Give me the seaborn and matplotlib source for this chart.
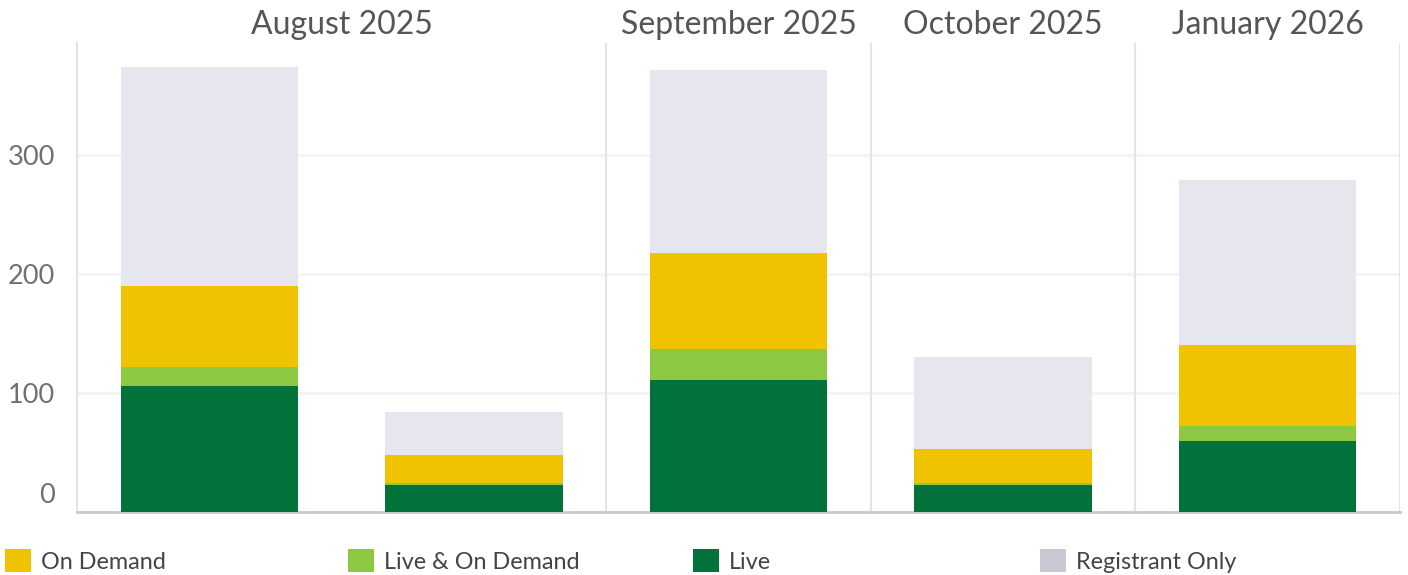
import numpy as np
import pandas as pd
import matplotlib
matplotlib.use("Agg")
import matplotlib.pyplot as plt
import matplotlib.transforms as mtransforms
from matplotlib.patches import Patch
import seaborn as sns

# Attendance breakdown per webinar session
sessions = ["Aug A", "Aug B", "Sep", "Oct", "Jan"]
live = [106, 23, 111, 23, 60]
live_on_demand = [16, 1, 26, 1, 12]
on_demand = [68, 24, 81, 29, 68]
registrant_only = [184, 36, 153, 77, 139]

months = ["August 2025", "September 2025", "October 2025", "January 2026"]
month_sessions = [2, 1, 1, 1]

series_names = ["On Demand", "Live & On Demand", "Live", "Registrant Only"]
bar_colors = {"Live": "#00723a", "Live & On Demand": "#8dc843",
              "On Demand": "#f0c300", "Registrant Only": "#e6e6ee"}
legend_colors = {"Live": "#00723a", "Live & On Demand": "#8dc843",
                 "On Demand": "#f0c300", "Registrant Only": "#c9c9d3"}

sns.set_theme(style="white")
plt.rcParams["font.family"] = ["Lato", "DejaVu Sans"]

df = pd.DataFrame({
    "session": sessions,
    "Live": live,
    "Live & On Demand": live_on_demand,
    "On Demand": on_demand,
    "Registrant Only": registrant_only,
})
# cumulative tops, drawn back-to-front so each layer covers the one above it
stack_order = ["Live", "Live & On Demand", "On Demand", "Registrant Only"]
cum = df[stack_order].cumsum(axis=1)

fig = plt.figure(figsize=(14.08, 5.75), dpi=100)
W, H = 1408, 575
ax = fig.add_axes([77 / W, 1 - 512 / H, (1400 - 77) / W, (512 - 43) / H])

for name in reversed(stack_order):
    sns.barplot(x=df["session"], y=cum[name], color=bar_colors[name],
                width=0.67, saturation=1, ax=ax, linewidth=0, zorder=3)

ax.set_xlim(-0.5, len(sessions) - 0.5)
ax.set_ylim(0, 394)
ax.set_xlabel("")
ax.set_ylabel("")
ax.set_xticks([])

# horizontal gridlines
ax.set_yticks([0, 100, 200, 300])
for v in [100, 200, 300]:
    ax.axhline(v, color="#f2f2f2", lw=1.8, zorder=1)
ax.tick_params(axis="y", length=0, labelsize=19.5, labelcolor="#707070", pad=16)
ylabels = ax.get_yticklabels()
ylabels[0].set_transform(ylabels[0].get_transform() +
                         mtransforms.ScaledTranslation(0, 19 / 100, fig.dpi_scale_trans))

for side in ["top", "right"]:
    ax.spines[side].set_visible(False)
ax.spines["left"].set_color("#e4e4e4")
ax.spines["left"].set_linewidth(1.5)
ax.spines["bottom"].set_color("#c8c8c8")
ax.spines["bottom"].set_linewidth(2)

# month panels: separators and headers
start = 0
for m, n in zip(months, month_sessions):
    end = start + n
    ax.axvline(end - 0.5, color="#e4e4e4", lw=1.5, zorder=1)
    center = (start + end - 1) / 2
    ax.text(center, 1.0, m, transform=ax.get_xaxis_transform(),
            ha="center", va="baseline", fontsize=23, color="#555555")
    start = end
for t in ax.texts:
    t.set_transform(t.get_transform() +
                    mtransforms.ScaledTranslation(0, 9 / 100, fig.dpi_scale_trans))

# legend row
legend_x = [5, 348, 693, 1040]
for name, lx in zip(series_names, legend_x):
    fig.legend(handles=[Patch(facecolor=legend_colors[name], edgecolor="none", label=name)],
               loc="center left", bbox_to_anchor=(lx / W, 1 - 561 / H),
               frameon=False, fontsize=16.8, labelcolor="#444444",
               handlelength=1.1, handleheight=1.15, handletextpad=0.45,
               borderpad=0, borderaxespad=0)

fig.savefig("out.png", dpi=100, facecolor="white")
